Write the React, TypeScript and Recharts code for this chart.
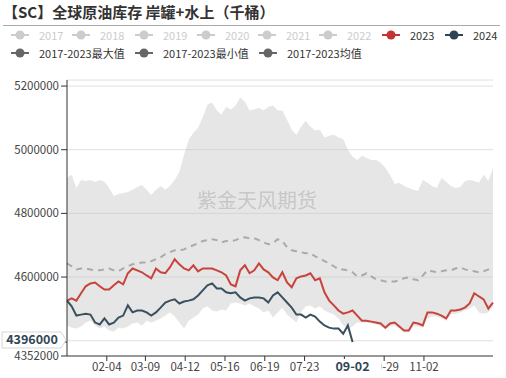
import {
  ComposedChart,
  Area,
  Line,
  XAxis,
  YAxis,
  CartesianGrid,
} from 'recharts';

// sample grid: every 4th day of the year (day 0 = 01-01)
const days = Array.from({ length: 92 }, (_, i) => i * 4);

// values in thousand barrels
const maxVals = [
  4911, 4921, 4880, 4905, 4902, 4905, 4899, 4905, 4899, 4880,
  4855, 4861, 4864, 4867, 4874, 4883, 4889, 4874, 4858, 4874,
  4886, 4874, 4886, 4905, 4930, 4984, 5031, 5053, 5069, 5101,
  5142, 5148, 5123, 5110, 5135, 5126, 5139, 5164, 5151, 5123,
  5126, 5132, 5123, 5135, 5139, 5123, 5123, 5094, 5063, 5047,
  5072, 5091, 5072, 5060, 5063, 5038, 5044, 5047, 5038, 5034,
  5000, 4978, 4968, 4981, 4974, 4968, 4968, 4959, 4943, 4921,
  4892, 4896, 4886, 4880, 4874, 4870, 4905, 4896, 4886, 4880,
  4911, 4899, 4886, 4880, 4883, 4902, 4905, 4902, 4896, 4921,
  4902, 4943,
];
const minVals = [
  4448, 4441, 4438, 4445, 4457, 4463, 4448, 4438, 4445, 4432,
  4429, 4441, 4438, 4445, 4454, 4457, 4448, 4463, 4457, 4463,
  4470, 4479, 4489, 4476, 4457, 4438, 4463, 4473, 4482, 4501,
  4508, 4495, 4492, 4498, 4495, 4517, 4520, 4517, 4511, 4517,
  4508, 4501, 4489, 4495, 4473, 4489, 4504, 4482, 4470, 4457,
  4489, 4508, 4511, 4501, 4508, 4495, 4489, 4482, 4470, 4448,
  4438, 4445, 4457, 4457, 4457, 4454, 4451, 4448, 4435, 4445,
  4448, 4438, 4426, 4426, 4445, 4445, 4441, 4470, 4476, 4476,
  4470, 4463, 4482, 4485, 4489, 4495, 4501, 4511, 4489, 4485,
  4489, 4508,
];
const avgVals = [
  4643, 4634, 4624, 4627, 4627, 4624, 4621, 4621, 4624, 4627,
  4621, 4618, 4627, 4634, 4640, 4643, 4646, 4646, 4650, 4656,
  4662, 4672, 4678, 4684, 4684, 4687, 4694, 4700, 4706, 4713,
  4716, 4719, 4716, 4709, 4713, 4713, 4716, 4722, 4725, 4722,
  4722, 4716, 4709, 4703, 4706, 4719, 4713, 4694, 4684, 4681,
  4678, 4675, 4675, 4665, 4659, 4650, 4643, 4634, 4624, 4624,
  4621, 4615, 4602, 4605, 4612, 4602, 4593, 4590, 4586, 4586,
  4586, 4590, 4596, 4599, 4593, 4590, 4605, 4621, 4618, 4615,
  4618, 4621, 4621, 4627, 4631, 4624, 4621, 4618, 4615, 4618,
  4624, 4631,
];
const vals2023 = [
  4526, 4533, 4526, 4549, 4571, 4580, 4583, 4571, 4561, 4561,
  4574, 4586, 4577, 4612, 4627, 4621, 4615, 4605, 4596, 4627,
  4615, 4612, 4631, 4656, 4640, 4627, 4621, 4637, 4618, 4627,
  4627, 4627, 4621, 4615, 4605, 4577, 4571, 4621, 4637, 4612,
  4621, 4643, 4624, 4615, 4599, 4590, 4615, 4583, 4568, 4596,
  4602, 4605, 4612, 4590, 4596, 4552, 4526, 4511, 4495, 4485,
  4489, 4495, 4479, 4463, 4463, 4460, 4457, 4454, 4441, 4454,
  4457, 4445, 4432, 4432, 4457, 4454, 4448, 4489, 4489, 4485,
  4479, 4470, 4495, 4495, 4498, 4504, 4517, 4549, 4539, 4530,
  4501, 4520,
];
const vals2024 = [
  4526, 4508, 4479, 4482, 4485, 4482, 4457, 4451, 4470, 4451,
  4457, 4473, 4479, 4511, 4489, 4495, 4495, 4489, 4479, 4489,
  4504, 4520, 4526, 4530, 4517, 4523, 4526, 4530, 4542, 4558,
  4574, 4580, 4564, 4564, 4552, 4549, 4552, 4536, 4526, 4533,
  4536, 4536, 4533, 4520, 4542, 4552, 4536, 4520, 4504, 4482,
  4482, 4473, 4482, 4476, 4460, 4448, 4441, 4438, 4438, 4422,
  4448, 4396,
];

const tickDays = [34, 67, 101, 135, 169, 203, 237, 271, 305];
const tickLabels = ['02-04', '03-09', '04-12', '05-16', '06-19', '07-23', '08-26', '09-29', '11-02'];
const pointerDay = 244;
const pointerDate = '09-02';
const pointerValue = 4396000;
const yTicks = [4352000, 4396000, 4600000, 4800000, 5000000, 5200000];
const gridValues = [4400000, 4600000, 4800000, 5000000, 5200000, 5219000];

const legendTop = [
  { name: '2017', color: '#cccccc', text: '#cccccc' },
  { name: '2018', color: '#cccccc', text: '#cccccc' },
  { name: '2019', color: '#cccccc', text: '#cccccc' },
  { name: '2020', color: '#cccccc', text: '#cccccc' },
  { name: '2021', color: '#cccccc', text: '#cccccc' },
  { name: '2022', color: '#cccccc', text: '#cccccc' },
  { name: '2023', color: '#c23531', text: '#333333' },
  { name: '2024', color: '#2f4554', text: '#333333' },
];
const legendBottom = [
  { name: '2017-2023最大值', color: '#666666', text: '#333333' },
  { name: '2017-2023最小值', color: '#666666', text: '#333333' },
  { name: '2017-2023均值', color: '#666666', text: '#333333' },
];

const data = days.map((d, i) => ({
  day: d,
  band: [minVals[i] * 1000, maxVals[i] * 1000],
  avg: avgVals[i] * 1000,
  y2023: vals2023[i] * 1000,
  y2024: i < vals2024.length ? vals2024[i] * 1000 : null,
}));

const FONT = "'Noto Sans CJK SC', 'Noto Sans', sans-serif";

function LegendItem({ item, left, top }: any) {
  return (
    <div style={{ position: 'absolute', left, top, display: 'flex', alignItems: 'center', height: 12 }}>
      <svg width={18} height={12} style={{ display: 'block' }}>
        <line x1={0} y1={6} x2={18} y2={6} stroke={item.color} strokeWidth={2} />
        <circle cx={9} cy={6} r={4.5} fill={item.color} />
      </svg>
      <span style={{ marginLeft: 10, fontSize: 11, color: item.text, fontFamily: FONT, whiteSpace: 'nowrap', lineHeight: '12px' }}>
        {item.name}
      </span>
    </div>
  );
}

function XTick(props: any) {
  const { x, y, payload } = props;
  if (payload.value === pointerDay) {
    return (
      <g>
        <rect x={x - 27} y={y + 3} width={56} height={19} fill="#ffffff" />
        <text x={x} y={y + 15} textAnchor="middle" fontSize={12.5} fontWeight="bold" fill="#2f4554" fontFamily={FONT}>
          {pointerDate}
        </text>
      </g>
    );
  }
  const idx = tickDays.indexOf(payload.value);
  return (
    <g>
      <line x1={x} y1={y} x2={x} y2={y + 5} stroke="#333" />
      <text x={x} y={y + 15} textAnchor="middle" fontSize={11.5} fill="#444" fontFamily={FONT}>
        {tickLabels[idx]}
      </text>
    </g>
  );
}

function YTick(props: any) {
  const { x, y, payload } = props;
  if (payload.value === pointerValue) {
    const r = x + 2;
    const c = y - 2;
    return (
      <g>
        <path
          d={`M2,${c - 8} L${r},${c - 8} L${r + 5},${c} L${r},${c + 8} L2,${c + 8} Z`}
          fill="#ffffff"
          stroke="#d6d6d6"
        />
        <text x={32} y={c + 4.5} textAnchor="middle" fontSize={12.5} fontWeight="bold" fill="#2f4554" fontFamily={FONT}>
          {pointerValue}
        </text>
      </g>
    );
  }
  return (
    <text x={x} y={y + 4} textAnchor="end" fontSize={11.5} fill="#444" fontFamily={FONT}>
      {payload.value}
    </text>
  );
}

export default function App() {
  const topLeft = [11, 72, 135, 197, 258, 319, 382, 445];
  const bottomLeft = [11, 135, 259];
  return (
    <div style={{ position: 'absolute', left: 0, top: 0, width: 506, height: 378, background: '#fff' }}>
      <div
        style={{
          position: 'absolute',
          left: 3,
          top: 2,
          fontSize: 15,
          fontWeight: 'bold',
          color: '#333',
          fontFamily: FONT,
          lineHeight: '20px',
          whiteSpace: 'nowrap',
        }}
      >
        【SC】全球原油库存 岸罐+水上（千桶）
      </div>
      <div style={{ position: 'absolute', left: 3, top: 25, width: 497, height: 1, background: '#aaa' }} />
      {legendTop.map((it, i) => (
        <LegendItem key={it.name} item={it} left={topLeft[i]} top={29} />
      ))}
      {legendBottom.map((it, i) => (
        <LegendItem key={it.name} item={it} left={bottomLeft[i]} top={47} />
      ))}
      <div style={{ position: 'absolute', left: 0, top: 0 }}>
        <ComposedChart width={506} height={378} data={data} margin={{ top: 80, right: 13, bottom: 0, left: 7 }}>
          <CartesianGrid vertical={false} stroke="#e0e0e0" horizontalValues={gridValues} />
          <XAxis
            dataKey="day"
            type="number"
            domain={[0, 364]}
            ticks={[...tickDays, pointerDay]}
            interval={0}
            tickLine={false}
            tickSize={0}
            tickMargin={0}
            height={22}
            axisLine={{ stroke: '#333' }}
            tick={<XTick />}
          />
          <YAxis
            type="number"
            domain={[4352000, 5219000]}
            allowDataOverflow
            ticks={yTicks}
            interval={0}
            width={60}
            tickSize={6}
            tickMargin={2}
            axisLine={{ stroke: '#333' }}
            tickLine={{ stroke: '#333' }}
            tick={<YTick />}
          />
          <Area
            dataKey="band"
            stroke="none"
            fill="#c8c8c8"
            fillOpacity={0.45}
            isAnimationActive={false}
            dot={false}
            activeDot={false}
          />
          <Line
            dataKey="avg"
            stroke="#aaaaaa"
            strokeWidth={2}
            strokeDasharray="6 5"
            dot={false}
            isAnimationActive={false}
          />
          <Line dataKey="y2023" stroke="#c8433b" strokeWidth={2} dot={false} isAnimationActive={false} />
          <Line dataKey="y2024" stroke="#3b505e" strokeWidth={2} dot={false} isAnimationActive={false} />
        </ComposedChart>
      </div>
      <div
        style={{
          position: 'absolute',
          left: 197,
          top: 187,
          fontSize: 20,
          color: 'rgba(160,160,160,0.45)',
          fontFamily: FONT,
          pointerEvents: 'none',
          whiteSpace: 'nowrap',
          lineHeight: '26px',
        }}
      >
        紫金天风期货
      </div>
    </div>
  );
}
